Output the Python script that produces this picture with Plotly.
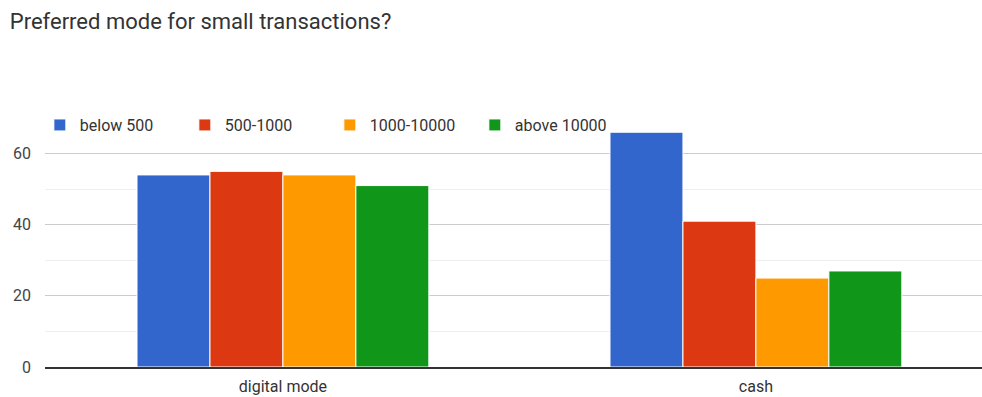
import plotly.graph_objects as go

categories = ["digital mode", "cash"]
series_names = ["below 500", "500-1000", "1000-10000", "above 10000"]
below_500 = [54, 66]
r500_1000 = [55, 41]
r1000_10000 = [54, 25]
above_10000 = [51, 27]
colors = ["#3366cc", "#dc3912", "#ff9900", "#109618"]

fig = go.Figure()
for name, vals, col in zip(series_names, [below_500, r500_1000, r1000_10000, above_10000], colors):
    fig.add_trace(go.Bar(x=categories, y=vals, name=name,
                         marker=dict(color=col, line=dict(color="white", width=1))))

fig.update_layout(
    width=982, height=397,
    margin=dict(l=45, r=0, t=118, b=30),
    paper_bgcolor="white", plot_bgcolor="white",
    font=dict(family="Roboto, Arial, sans-serif", size=16, color="#444"),
    title=dict(text="Preferred mode for small transactions?", x=0.01, xanchor="left",
               y=1 - 21 / 397, yanchor="middle",
               font=dict(size=22, color="#333")),
    barmode="group", bargap=0.383, bargroupgap=0,
    showlegend=True,
    legend=dict(orientation="h", x=-0.0055, xanchor="left", y=1.04, yanchor="top",
                font=dict(size=16, color="#333"), bgcolor="rgba(0,0,0,0)",
                itemwidth=30, entrywidth=100, entrywidthmode="pixels",
                traceorder="normal"),
    xaxis=dict(showline=True, linecolor="#333", linewidth=1.5, ticks="",
               range=[-0.503, 1.478], ticklabelstandoff=4,
               tickfont=dict(size=16, color="#333")),
    yaxis=dict(range=[0, 70], dtick=20, tick0=0, showgrid=True, gridcolor="#cccccc",
               gridwidth=1, zeroline=False, ticks="", ticklabelstandoff=13,
               tickfont=dict(size=16, color="#444"),
               minor=dict(dtick=10, tick0=0, showgrid=True, gridcolor="#eeeeee", gridwidth=1)),
)

fig.write_html("out.html")
